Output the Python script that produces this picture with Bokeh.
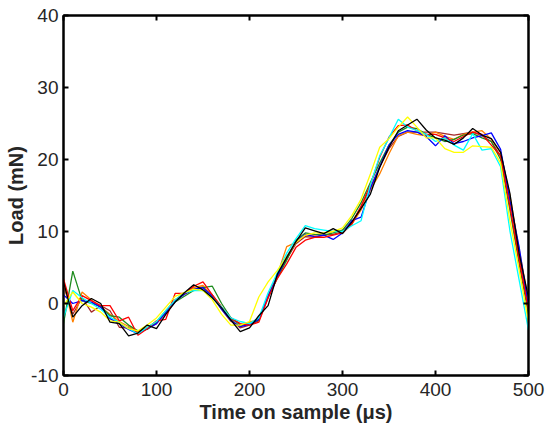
from bokeh.plotting import figure
from bokeh.models import LinearAxis, Range1d, FixedTicker, CustomJSTickFormatter
from bokeh.embed import file_html
from bokeh.resources import INLINE

time_us = list(range(0, 501, 10))

load_maroon = [2.5, -1.5, 0.8, -1.2, -0.3, -1.0, -3.3, -3.4, -4.0, -3.5,
               -2.8, -1.3, 0.5, 1.3, 2.0, 2.3, 1.2, -0.5, -2.2, -3.4,
               -3.0, -2.4, 0.8, 3.7, 6.2, 8.3, 9.3, 9.2, 9.5, 9.6,
               10.0, 11.2, 13.5, 16.0, 19.0, 21.5, 23.2, 23.8, 23.8, 23.8,
               23.8, 23.6, 23.4, 23.6, 23.8, 23.3, 22.5, 20.5, 14.5, 6.5, -0.3]
load_orange = [3.2, -2.6, 1.6, 0.5, -0.5, -1.5, -2.5, -3.2, -4.0, -3.3,
               -2.5, -1.0, 0.5, 1.5, 2.2, 2.5, 1.0, -0.8, -2.5, -3.2,
               -2.6, -2.2, 1.2, 4.0, 7.9, 8.5, 9.5, 9.5, 9.8, 10.0,
               10.2, 11.0, 13.0, 15.8, 18.0, 20.8, 23.3, 23.8, 23.5, 23.3,
               23.8, 23.2, 22.8, 23.5, 23.8, 24.0, 22.8, 21.0, 15.0, 7.5, 0.4]
load_green = [-2.8, 4.5, 0.4, 0.0, -0.4, -1.7, -1.9, -3.0, -3.8, -3.6,
              -2.6, -1.2, 0.2, 1.0, 1.8, 2.2, 2.4, 0.0, -2.0, -3.0,
              -2.8, -2.3, 1.0, 3.5, 6.0, 8.8, 9.8, 9.6, 9.5, 9.8,
              10.2, 11.8, 14.0, 16.8, 19.5, 22.0, 23.8, 24.5, 24.3, 23.5,
              23.0, 22.5, 22.8, 23.4, 23.6, 23.0, 22.5, 20.0, 13.0, 5.5, -1.5]
load_blue = [1.2, 0.0, 0.4, 0.2, -0.5, -2.1, -2.8, -3.6, -4.2, -3.5,
             -2.8, -1.2, 0.3, 1.3, 2.0, 2.2, 1.0, -0.8, -2.4, -3.2,
             -2.9, -2.2, 1.0, 3.8, 6.5, 8.6, 9.6, 9.3, 9.5, 8.9,
             9.8, 11.5, 12.0, 16.0, 19.0, 22.0, 23.5, 24.0, 23.8, 23.2,
             21.9, 23.3, 22.2, 22.5, 23.0, 23.3, 23.7, 21.4, 14.3, 7.8, -0.5]
load_red = [3.4, -1.0, 1.1, 0.4, -0.3, -0.3, -2.4, -1.9, -4.4, -3.5,
            -2.4, -2.2, 1.4, 1.4, 2.4, 3.0, 1.2, -0.5, -2.0, -2.8,
            -3.0, -2.6, 0.8, 3.5, 5.5, 7.8, 8.8, 9.2, 9.2, 9.5,
            9.8, 11.0, 13.5, 16.5, 20.3, 23.1, 24.7, 24.8, 24.0, 23.5,
            23.5, 23.0, 22.5, 23.2, 23.8, 23.5, 22.0, 20.5, 13.5, 6.0, -1.0]
load_cyan = [-1.9, 1.8, 0.8, 0.0, -0.8, -1.9, -2.6, -3.5, -4.2, -3.3,
             -2.5, -1.0, 0.5, 1.5, 1.8, 1.8, 0.8, -0.5, -2.0, -2.5,
             -2.8, -2.0, 1.5, 4.3, 7.0, 9.0, 10.8, 10.4, 10.2, 10.0,
             10.0, 10.8, 11.5, 16.5, 20.5, 23.0, 25.6, 24.5, 24.0, 23.5,
             22.5, 23.0, 22.0, 21.3, 23.6, 21.3, 21.5, 19.0, 10.1, 3.2, -3.7]
load_yellow = [-0.3, 1.6, 0.0, -0.5, -1.2, -2.4, -2.6, -3.5, -3.8, -3.0,
               -2.0, -0.5, 1.0, 1.5, 2.0, 1.8, 0.5, -1.5, -3.0, -3.0,
               -2.5, 0.9, 3.0, 4.6, 6.5, 8.5, 9.5, 9.8, 9.8, 10.0,
               10.5, 12.2, 14.5, 18.0, 21.7, 22.9, 24.5, 25.9, 24.5, 23.0,
               23.0, 21.5, 21.0, 21.0, 21.9, 21.8, 21.7, 19.5, 11.5, 4.6, -2.6]
load_black = [3.0, -1.9, -0.3, 0.7, 0.0, -2.6, -2.8, -4.5, -4.1, -3.0,
              -3.5, -1.5, 0.2, 1.5, 2.6, 1.9, 0.8, -0.6, -2.3, -3.9,
              -3.4, -1.7, -0.3, 4.1, 6.4, 8.6, 10.5, 10.1, 9.7, 10.4,
              9.7, 11.3, 13.2, 15.2, 18.9, 21.7, 24.0, 24.8, 25.6, 24.1,
              23.0, 22.7, 22.1, 23.0, 24.3, 23.4, 22.9, 21.0, 15.3, 6.9, 0.8]

series = [
    (load_maroon, "#A52A2A"),
    (load_orange, "#FF8000"),
    (load_green, "#1E8C1E"),
    (load_blue, "#0000FF"),
    (load_red, "#FF0000"),
    (load_cyan, "#00FFFF"),
    (load_yellow, "#FFFF00"),
    (load_black, "#000000"),
]

x_ticks = [0, 100, 200, 300, 400, 500]
y_ticks = [-10, 0, 10, 20, 30, 40]

p = figure(width=545, height=436, output_backend="svg", toolbar_location=None,
           x_range=Range1d(0, 500), y_range=Range1d(-10, 40),
           min_border_left=63, min_border_right=17, min_border_top=15,
           min_border_bottom=61)
p.background_fill_color = "white"
p.border_fill_color = "white"
p.outline_line_color = "#000000"
p.outline_line_width = 2
p.xgrid.visible = False
p.ygrid.visible = False

for ys, col in series:
    p.line(time_us, ys, line_color=col, line_width=1.3)

font = "Liberation Sans"
plain = CustomJSTickFormatter(code="return tick.toString();")
for ax, ticks in ((p.xaxis[0], x_ticks), (p.yaxis[0], y_ticks)):
    ax.ticker = FixedTicker(ticks=ticks)
    ax.formatter = plain
    ax.major_tick_in = 5
    ax.major_tick_out = 0
    ax.minor_tick_line_color = None
    ax.axis_line_width = 2
    ax.major_tick_line_width = 2
    ax.axis_line_color = "#000000"
    ax.major_tick_line_color = "#000000"
    ax.major_label_text_font = font
    ax.major_label_text_font_size = "19px"
    ax.major_label_text_color = "#262626"
    ax.axis_label_text_font = font
    ax.axis_label_text_font_size = "20px"
    ax.axis_label_text_font_style = "bold"
    ax.axis_label_text_color = "#262626"

p.xaxis[0].axis_label = "Time on sample (μs)"
p.yaxis[0].axis_label = "Load (mN)"
p.xaxis[0].major_label_standoff = 7
p.yaxis[0].major_label_standoff = 5
p.xaxis[0].axis_label_standoff = 2
p.yaxis[0].axis_label_standoff = 1

blank = CustomJSTickFormatter(code="return '';")
top = LinearAxis(ticker=FixedTicker(ticks=x_ticks), formatter=blank,
                 major_label_standoff=0,
                 major_tick_in=5, major_tick_out=0, minor_tick_line_color=None,
                 axis_line_width=2, major_tick_line_width=2)
right = LinearAxis(ticker=FixedTicker(ticks=y_ticks), formatter=blank,
                   major_label_standoff=0,
                   major_tick_in=5, major_tick_out=0, minor_tick_line_color=None,
                   axis_line_width=2, major_tick_line_width=2)
p.add_layout(top, "above")
p.add_layout(right, "right")

open("out.html", "w").write(file_html(p, INLINE))
